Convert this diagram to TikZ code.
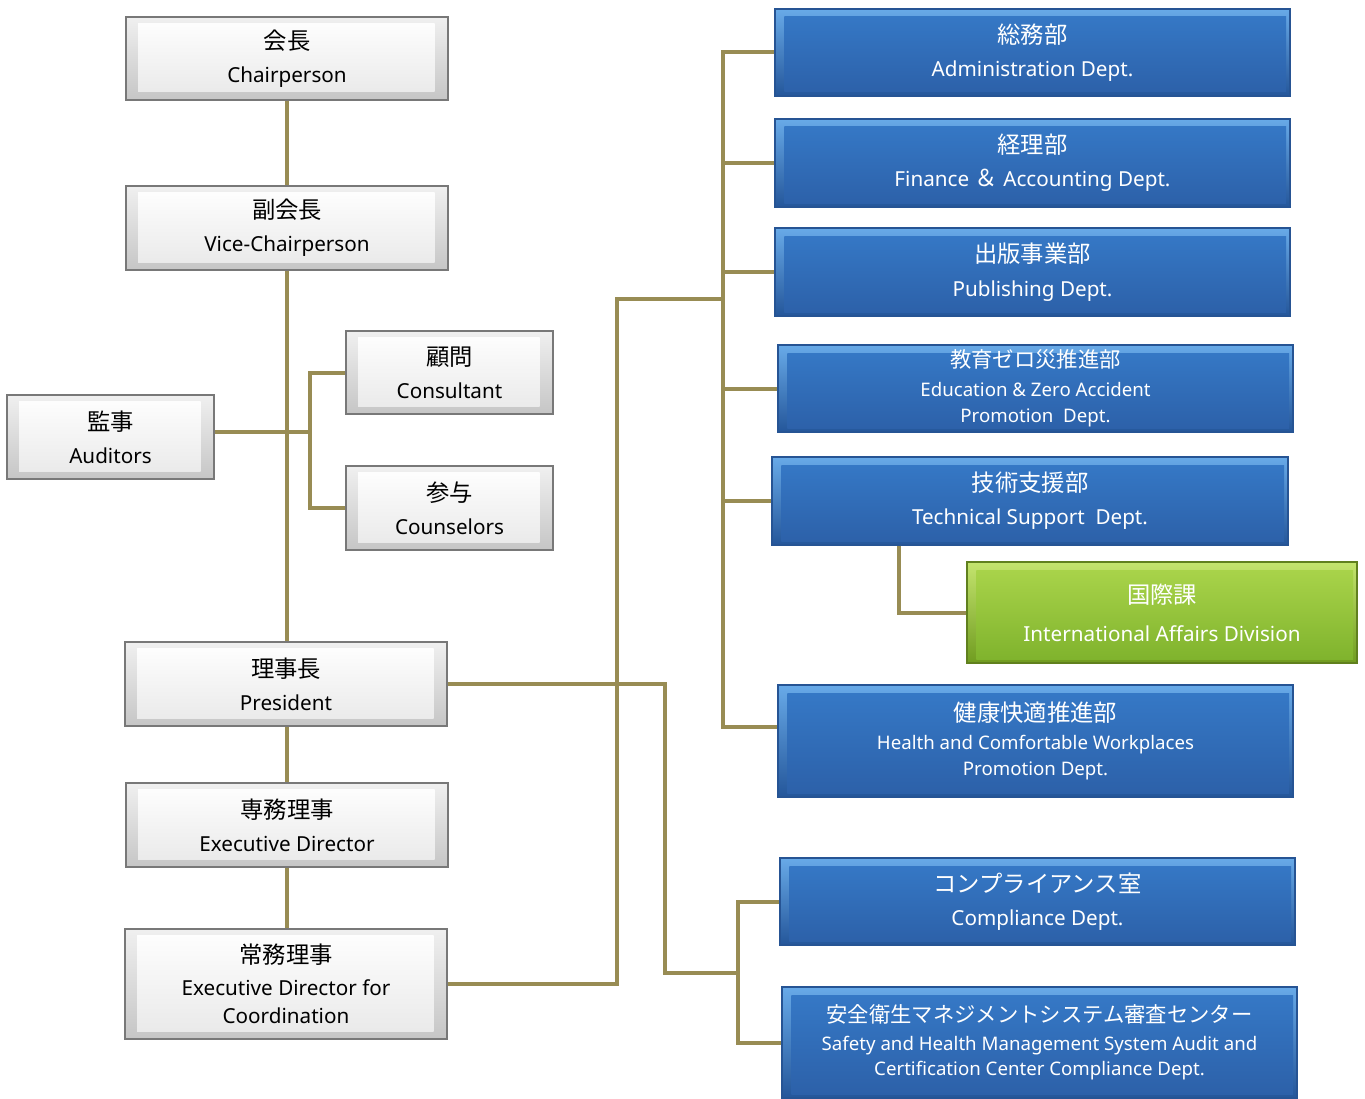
\documentclass[tikz,border=0pt]{standalone}
\usepackage{fontspec}
\setmainfont{Noto Sans}
\newfontfamily\jpfont{Noto Sans CJK JP}
\definecolor{linkolive}{RGB}{152,140,84}
\definecolor{grayedge}{RGB}{120,120,120}
\definecolor{blueedge}{RGB}{38,84,148}
\definecolor{bluelight}{RGB}{104,170,232}
\definecolor{bluedark}{RGB}{36,86,154}
\definecolor{bluefacetop}{RGB}{54,122,200}
\definecolor{bluefacebot}{RGB}{44,96,168}
\definecolor{greenedge}{RGB}{96,128,30}
\definecolor{greenlight}{RGB}{196,228,110}
\definecolor{greendark}{RGB}{112,156,32}
\definecolor{greenfacetop}{RGB}{172,214,76}
\definecolor{greenfacebot}{RGB}{126,178,44}
\newcommand{\jname}[1]{{\jpfont\fontsize{17.5}{19}\selectfont #1}}
\newcommand{\jsmall}[1]{{\jpfont\fontsize{16}{19}\selectfont #1}}
\tikzset{every picture/.style={line width=0.75pt}}
\tikzset{
	box size/.style 2 args={minimum width=#1*0.75pt, minimum height=#2*0.75pt},
	orgbox/.style={rectangle, align=center, inner sep=2pt,
		font=\fontsize{15.5}{19}\selectfont},
	graybox/.style={orgbox, draw=grayedge, line width=0.8pt,
		top color=gray!12, bottom color=gray!45,
		path picture={\shade[top color=white, bottom color=gray!18]
			([xshift=9pt,yshift=-5pt]path picture bounding box.north west) rectangle
			([xshift=-10pt,yshift=6pt]path picture bounding box.south east);}},
	bluebox/.style={orgbox, text=white, draw=blueedge, line width=0.8pt,
		top color=bluelight, bottom color=bluedark,
		path picture={\shade[top color=bluefacetop, bottom color=bluefacebot]
			([xshift=7pt,yshift=-6pt]path picture bounding box.north west) rectangle
			([xshift=-3pt,yshift=3pt]path picture bounding box.south east);}},
	greenbox/.style={orgbox, text=white, draw=greenedge, line width=0.8pt,
		top color=greenlight, bottom color=greendark,
		path picture={\shade[top color=greenfacetop, bottom color=greenfacebot]
			([xshift=7pt,yshift=-6pt]path picture bounding box.north west) rectangle
			([xshift=-3pt,yshift=3pt]path picture bounding box.south east);}},
	link/.style={draw=linkolive, line width=3pt}
}

\begin{document}
\begin{tikzpicture}[x=0.75pt,y=0.75pt,yscale=-1,xscale=1]
	\useasboundingbox (0,0) rectangle (1365,1099);

	% Left column (board)
	\node [graybox, box size={322}{83}] (chair) at (287,58.5) {\jname{会長}\\[6pt]Chairperson};
	\node [graybox, box size={322}{84}] (vice) at (287,228) {\jname{副会長}\\[6pt]Vice-Chairperson};
	\node [graybox, box size={207}{83}] (consult) at (449.5,372.5) {\jname{顧問}\\[6pt]Consultant};
	\node [graybox, box size={207}{84}] (couns) at (449.5,508) {\jname{参与}\\[6pt]Counselors};
	\node [graybox, box size={207}{84}] (audit) at (110.5,437) {\jname{監事}\\[6pt]Auditors};
	\node [graybox, box size={322}{84}] (pres) at (286,684) {\jname{理事長}\\[6pt]President};
	\node [graybox, box size={322}{84}] (exec) at (287,825) {\jname{専務理事}\\[6pt]Executive Director};
	\node [graybox, box size={322}{110}, font=\fontsize{15.5}{21.5}\selectfont] (coord) at (286,984)
		{\jname{常務理事}\\[2pt]Executive Director for\\Coordination};

	% Right column (departments)
	\node [bluebox, box size={515}{87}] (admin) at (1032.5,52.5) {\jname{総務部}\\[6pt]Administration Dept.};
	\node [bluebox, box size={515}{88}] (fin) at (1032.5,163) {\jname{経理部}\\[6pt]Finance \jname{＆} Accounting Dept.};
	\node [bluebox, box size={515}{88}] (pub) at (1032.5,272) {\jname{出版事業部}\\[6pt]Publishing Dept.};
	\node [bluebox, box size={515}{87}, font=\fontsize{14}{19.5}\selectfont] (edu) at (1035.5,388.5)
		{\jsmall{教育ゼロ災推進部}\\[2pt]Education \& Zero Accident\\Promotion~ Dept.};
	\node [bluebox, box size={516}{88}] (tech) at (1030,501) {\jname{技術支援部}\\[6pt]Technical Support~ Dept.};
	\node [greenbox, box size={390}{101}] (intl) at (1162,612.5) {\jname{国際課}\\[9.5pt]International Affairs Division};
	\node [bluebox, box size={515}{112}, font=\fontsize{14}{19.5}\selectfont] (health) at (1035.5,741)
		{\jname{健康快適推進部}\\[2pt]Health and Comfortable Workplaces\\Promotion Dept.};
	\node [bluebox, box size={515}{87}] (compl) at (1037.5,901.5) {\jname{コンプライアンス室}\\[6pt]Compliance Dept.};
	\node [bluebox, box size={515}{111}, font=\fontsize{14}{19}\selectfont] (safety) at (1039.5,1042.5)
		{\jsmall{安全衛生マネジメントシステム審査センター}\\[2pt]Safety and Health Management System Audit and\\Certification Center Compliance Dept.};

	% Junctions
	\coordinate (advJ) at (310,432);
	\coordinate (presJ) at (665,973);
	\coordinate (comJ) at (738,973);
	\coordinate (coordJ) at (617,299);
	\coordinate (deptBus) at (723,299);
	\coordinate (intlJ) at (899,614);

	% Links
	\draw [link] (chair.south) -- (vice.north);
	\draw [link] (vice.south) -- (vice.south |- pres.north);
	\draw [link] (vice.south |- pres.south) -- (vice.south |- exec.north);
	\draw [link] (vice.south |- exec.south) -- (vice.south |- coord.north);
	\draw [link] (audit.east |- advJ) -- (advJ);
	\draw [link] (consult.west) -| (advJ) |- (couns.west);
	\draw [link] (pres.east) -| (presJ) -- (comJ);
	\draw [link] (compl.west) -| (comJ) |- (safety.west);
	\draw [link] (coord.east) -| (coordJ) -- (deptBus);
	\draw [link] (admin.west) -| (deptBus) |- ([yshift=-10.5pt]health.west);
	\foreach \dept in {fin,pub,edu,tech}
		\draw [link] (\dept.west) -- (\dept.west -| deptBus);
	\draw [link] (tech.south -| intlJ) |- (intl.west);

\end{tikzpicture}
\end{document}
